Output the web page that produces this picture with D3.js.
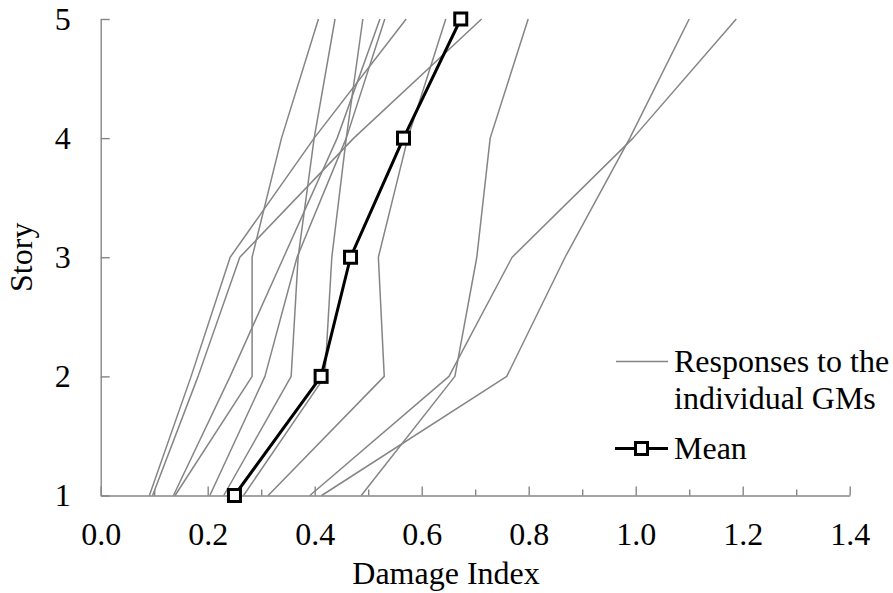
<!DOCTYPE html>
<html>
<head>
<meta charset="utf-8">
<script src="https://cdn.jsdelivr.net/npm/d3@7"></script>
<style>
  html, body { margin: 0; padding: 0; background: #ffffff; }
  svg { display: block; }
  text { font-family: "Liberation Serif", "Times New Roman", serif; fill: #000; }
</style>
</head>
<body>
<svg id="chart" width="893" height="593"></svg>
<script>
// Storey levels (vertical axis)
const stories = [1, 2, 3, 4, 5];

// Damage index per storey, one array per ground motion record
const gm01 = [0.091, 0.169, 0.242, 0.399, 0.571];
const gm02 = [0.097, 0.182, 0.260, 0.473, 0.712];
const gm03 = [0.136, 0.242, 0.342, 0.442, 0.522];
const gm04 = [0.139, 0.283, 0.283, 0.338, 0.407];
const gm05 = [0.204, 0.307, 0.367, 0.459, 0.531];
const gm06 = [0.230, 0.356, 0.369, 0.399, 0.438];
const gm07 = [0.267, 0.419, 0.432, 0.459, 0.490];
const gm08 = [0.313, 0.530, 0.519, 0.574, 0.645];
const gm09 = [0.391, 0.651, 0.769, 0.995, 1.188];
const gm10 = [0.487, 0.662, 0.703, 0.728, 0.799];
const gm11 = [0.413, 0.759, 0.868, 0.989, 1.100];

// Mean damage index per storey
const meanDI = [0.250, 0.412, 0.467, 0.566, 0.673];

// Axis ticks
const xMajorTicks = [0.0, 0.2, 0.4, 0.6, 0.8, 1.0, 1.2, 1.4];
const xMinorTicks = [0.1, 0.3, 0.5, 0.7, 0.9, 1.1, 1.3];
const yTicks = [1, 2, 3, 4, 5];

// Labels
const xTitle = "Damage Index";
const yTitle = "Story";
const legendGM = ["Responses to the", "individual GMs"];
const legendMean = "Mean";

const responses = [gm01, gm02, gm03, gm04, gm05, gm06, gm07, gm08, gm09, gm10, gm11];

const svg = d3.select("#chart");
const axisColor = "#868686";
const gmColor = "#858585";
const fontSize = 32;

const x = d3.scaleLinear().domain([0, 1.4]).range([100.7, 849.7]);
const y = d3.scaleLinear().domain([1, 5]).range([495.5, 19]);

// Minor x ticks (inside, short)
const gMinor = svg.append("g")
  .attr("transform", `translate(0,${y(1)})`)
  .call(d3.axisBottom(x).tickValues(xMinorTicks).tickSize(-6).tickFormat(""));
gMinor.select(".domain").remove();

// Major x ticks with labels
const gx = svg.append("g")
  .attr("transform", `translate(0,${y(1)})`)
  .call(d3.axisBottom(x).tickValues(xMajorTicks).tickSize(-9).tickSizeOuter(0)
    .tickPadding(27).tickFormat(d3.format(".1f")));

// Y axis
const gy = svg.append("g")
  .attr("transform", `translate(${x(0)},0)`)
  .call(d3.axisLeft(y).tickValues(yTicks).tickSize(-9).tickSizeOuter(0)
    .tickPadding(30).tickFormat(d3.format("d")));

[gMinor, gx, gy].forEach(g => {
  g.selectAll(".domain").attr("stroke", axisColor).attr("stroke-width", 1.4);
  g.selectAll(".tick line").attr("stroke", axisColor).attr("stroke-width", 1.4);
  g.selectAll(".tick text")
    .attr("fill", "#000")
    .style("font-family", '"Liberation Serif", serif')
    .style("font-size", fontSize + "px");
});

// Axis titles
svg.append("text")
  .attr("x", 446)
  .attr("y", 584)
  .attr("text-anchor", "middle")
  .style("font-size", fontSize + "px")
  .text(xTitle);

svg.append("text")
  .attr("transform", `translate(32,${y(3)}) rotate(-90)`)
  .attr("text-anchor", "middle")
  .style("font-size", fontSize + "px")
  .text(yTitle);

// Individual ground-motion responses
const line = d3.line()
  .x(d => x(d[0]))
  .y(d => y(d[1]));

svg.append("g")
  .selectAll("path")
  .data(responses)
  .join("path")
  .attr("d", vals => line(vals.map((v, i) => [v, stories[i]])))
  .attr("fill", "none")
  .attr("stroke", gmColor)
  .attr("stroke-width", 1.5)
  .attr("stroke-linejoin", "round");

// Mean response
const meanPts = meanDI.map((v, i) => [v, stories[i]]);
svg.append("path")
  .attr("d", line(meanPts))
  .attr("fill", "none")
  .attr("stroke", "#000")
  .attr("stroke-width", 3)
  .attr("stroke-linejoin", "round");

const markerSize = 12;
svg.append("g")
  .selectAll("rect")
  .data(meanPts)
  .join("rect")
  .attr("x", d => x(d[0]) - markerSize / 2)
  .attr("y", d => y(d[1]) - markerSize / 2)
  .attr("width", markerSize)
  .attr("height", markerSize)
  .attr("fill", "#fff")
  .attr("stroke", "#000")
  .attr("stroke-width", 3);

// Legend
const leg = svg.append("g");
leg.append("line")
  .attr("x1", 616).attr("x2", 668)
  .attr("y1", 361.5).attr("y2", 361.5)
  .attr("stroke", gmColor).attr("stroke-width", 1.5);
leg.append("text")
  .attr("x", 674)
  .attr("y", 372)
  .style("font-size", fontSize + "px")
  .text(legendGM[0]);
leg.append("text")
  .attr("x", 674)
  .attr("y", 408.5)
  .style("font-size", fontSize + "px")
  .text(legendGM[1]);

leg.append("line")
  .attr("x1", 615).attr("x2", 668)
  .attr("y1", 448.5).attr("y2", 448.5)
  .attr("stroke", "#000").attr("stroke-width", 3);
leg.append("rect")
  .attr("x", 641.5 - markerSize / 2)
  .attr("y", 448.5 - markerSize / 2)
  .attr("width", markerSize)
  .attr("height", markerSize)
  .attr("fill", "#fff")
  .attr("stroke", "#000")
  .attr("stroke-width", 3);
leg.append("text")
  .attr("x", 674)
  .attr("y", 458.5)
  .style("font-size", fontSize + "px")
  .text(legendMean);
</script>
</body>
</html>
